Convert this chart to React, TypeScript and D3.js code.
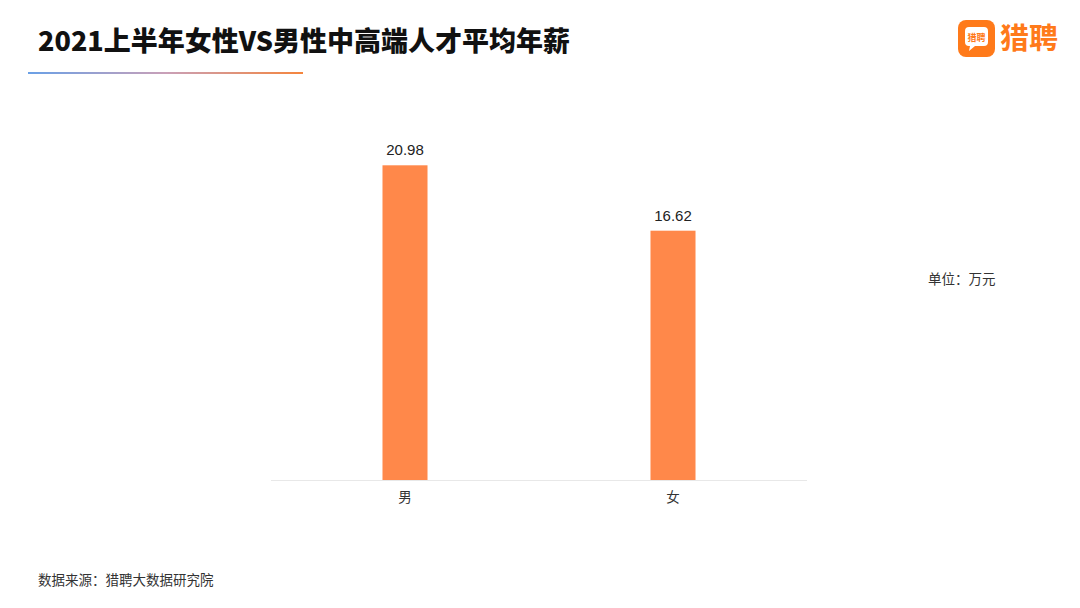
import React from "react";
import * as d3 from "d3";

const categories = ["男", "女"];
const salaries = [20.98, 16.62];
const yDomainMax = 24;

const W = 1080;
const H = 608;
const plot = { left: 271, right: 807, top: 120, bottom: 480 };

export default function App() {
  const x = d3
    .scaleBand<string>()
    .domain(categories)
    .range([plot.left, plot.right])
    .paddingInner(0.832)
    .paddingOuter(0.416);
  const y = d3.scaleLinear().domain([0, yDomainMax]).range([plot.bottom, plot.top]);
  const font = "'Noto Sans CJK SC', 'Noto Sans', sans-serif";
  const fontLatin = "'Liberation Sans', Arial, 'Noto Sans CJK SC', sans-serif";

  return (
    <div style={{ position: "absolute", left: 0, top: 0 }}>
      <svg width={W} height={H} style={{ display: "block", background: "#fff" }}>
        <defs>
          <linearGradient id="tg" x1="0" x2="1" y1="0" y2="0">
            <stop offset="0%" stopColor="#6aa0e6" />
            <stop offset="50%" stopColor="#c9a0b8" />
            <stop offset="100%" stopColor="#f5853d" />
          </linearGradient>
        </defs>
        <text x={38} y={51} fontFamily={font} fontWeight={900} fontSize={27} fill="#111">
          2021上半年女性VS男性中高端人才平均年薪
        </text>
        <rect x={28} y={72} width={275} height={2} fill="url(#tg)" />

        {/* logo */}
        <rect x={958} y={20} width={37} height={37} rx={8} fill="#ff7a1a" />
        <path
          d="M965,31 Q965,27 969,27 L984,27 Q988,27 988,31 L988,42 Q988,46 984,46 L975,46 L969,51 L970,46 L969,46 Q965,46 965,42 Z"
          fill="#fff"
        />
        <text x={976.5} y={41} textAnchor="middle" fontFamily={font} fontWeight={700} fontSize={9} fill="#ff7a1a">
          猎聘
        </text>
        <text x={1000} y={49} fontFamily={font} fontWeight={700} fontSize={29} fill="#ff7a1a">
          猎聘
        </text>

        {/* axis line */}
        <line x1={plot.left} x2={plot.right} y1={plot.bottom + 0.5} y2={plot.bottom + 0.5} stroke="#e8e8e8" strokeWidth={1} />

        {categories.map((c, i) => (
          <g key={c}>
            <rect
              x={x(c)}
              y={y(salaries[i])}
              width={x.bandwidth()}
              height={plot.bottom - y(salaries[i])}
              fill="#ff884a"
            />
            <text
              x={(x(c) as number) + x.bandwidth() / 2}
              y={y(salaries[i]) - 10}
              textAnchor="middle"
              fontFamily={fontLatin}
              fontSize={15}
              fill="#222"
            >
              {salaries[i].toFixed(2)}
            </text>
            <text
              x={(x(c) as number) + x.bandwidth() / 2}
              y={plot.bottom + 22}
              textAnchor="middle"
              fontFamily={font}
              fontSize={13.5}
              fill="#333"
            >
              {c}
            </text>
          </g>
        ))}

        <text x={928} y={284} fontFamily={font} fontSize={13.5} fill="#333">
          单位：万元
        </text>
        <text x={38} y={585} fontFamily={font} fontSize={13.5} fill="#333">
          数据来源：猎聘大数据研究院
        </text>
      </svg>
    </div>
  );
}
